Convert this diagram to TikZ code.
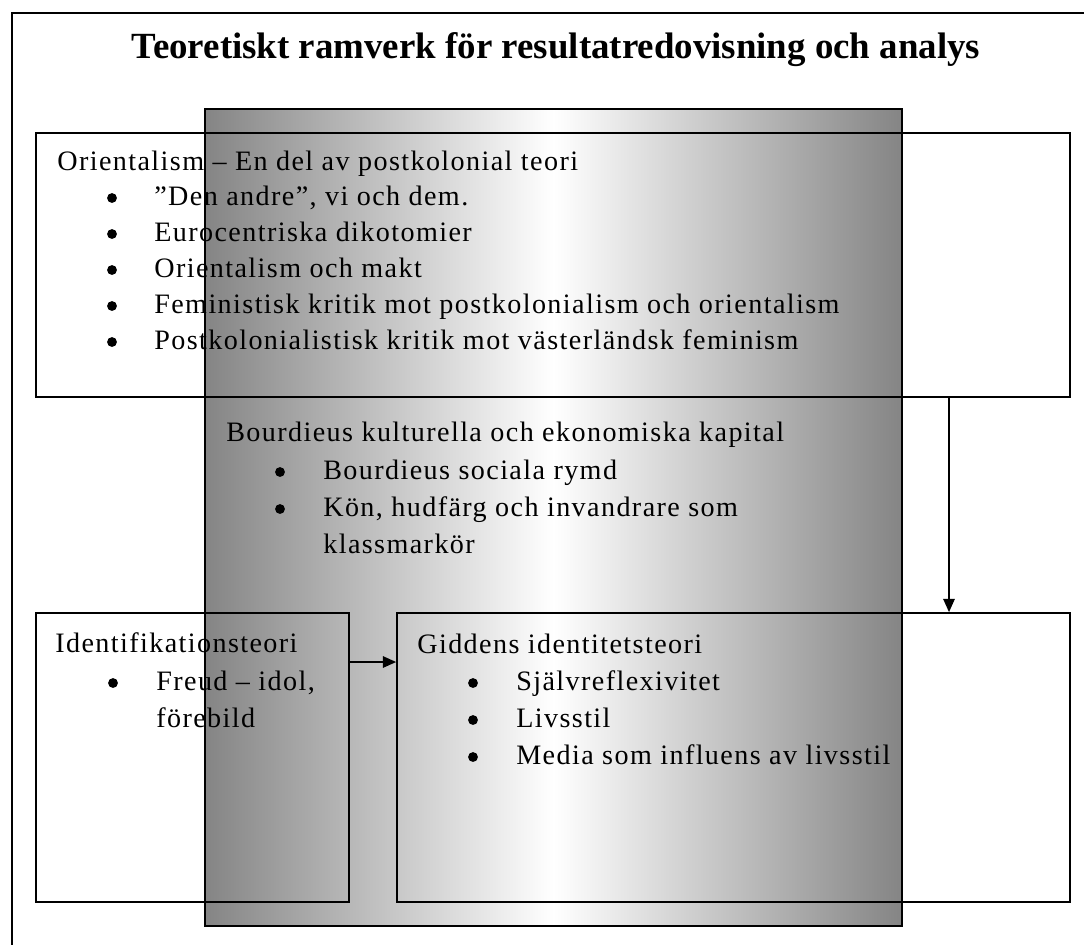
\documentclass[tikz,border=0pt]{standalone}
\usepackage{fontspec}
\setmainfont{Liberation Serif}
\newfontfamily\bodyfont[LetterSpace=5]{Liberation Serif}
\usetikzlibrary{arrows.meta,fit}

\begin{document}
\begin{tikzpicture}[
	x=0.02cm, y=-0.02cm,
	every node/.style={inner sep=0pt},
	box/.style={draw, line width=1pt, inner sep=0pt},
	pillar/.style={draw, line width=1pt, inner sep=0pt, left color=black!48, right color=black!48, middle color=white},
	titletext/.style={font=\fontsize{21}{25}\selectfont\bfseries, anchor=base},
	bodytext/.style={font=\fontsize{16}{19}\bodyfont, anchor=base west},
	dot/.style={circle, fill=black, minimum size=5.6pt},
	arr/.style={line width=0.8pt, -{Triangle[length=7.5pt,width=6.5pt]}},
]
\useasboundingbox (0,0) rectangle (1084,944);

% outer frame, runs off at the right and bottom
\node[box, fit={(12,13) (1100,960)}] (frame) {};
\node[titletext] (title) at (556,58) {Teoretiskt ramverk för resultatredovisning och analys};

% shaded column behind the boxes
\node[pillar, fit={(205,109) (902,926)}] (pillar) {};

% the three boxes
\node[box, fit={(36,133) (1070,397)}] (orient) {};
\node[box, fit={(36,613) (349,902)}] (ident) {};
\node[box, fit={(397,613) (1070,902)}] (giddens) {};

% orientalism
\node[bodytext] (orienthead) at (57,170) {Orientalism – En del av postkolonial teori};
\node[bodytext] (orient1) at (154,205) {”Den andre”, vi och dem.};
\node[bodytext] (orient2) at (154,241) {Eurocentriska dikotomier};
\node[bodytext] (orient3) at (154,277) {Orientalism och makt};
\node[bodytext] (orient4) at (154,313) {Feministisk kritik mot postkolonialism och orientalism};
\node[bodytext] (orient5) at (154,349) {Postkolonialistisk kritik mot västerländsk feminism};
\foreach \y in {205,241,277,313,349}
	\node[dot] (odot\y) at (112,\y-7) {};

% bourdieu
\node[bodytext] (bourdhead) at (226,441) {Bourdieus kulturella och ekonomiska kapital};
\node[bodytext] (bourd1) at (323,479) {Bourdieus sociala rymd};
\node[bodytext] (bourd2) at (323,516) {Kön, hudfärg och invandrare som};
\node[bodytext] (bourd2b) at (323,553) {klassmarkör};
\foreach \y in {479,516}
	\node[dot] (bdot\y) at (280,\y-7) {};

% identifikation
\node[bodytext] (identhead) at (55,652) {Identifikationsteori};
\node[bodytext] (ident1) at (156,690) {Freud – idol,};
\node[bodytext] (ident1b) at (156,727) {förebild};
\node[dot] (idot) at (113,683) {};

% giddens
\node[bodytext] (giddhead) at (417,653) {Giddens identitetsteori};
\node[bodytext] (gidd1) at (516,690) {Självreflexivitet};
\node[bodytext] (gidd2) at (516,727) {Livsstil};
\node[bodytext] (gidd3) at (516,764) {Media som influens av livsstil};
\foreach \y in {690,727,764}
	\node[dot] (gdot\y) at (473,\y-7) {};

% connectors
\coordinate (drop) at (949,0);
\coordinate (link) at (0,662);
\draw[arr] (orient.south -| drop) -- (giddens.north -| drop);
\draw[arr] (ident.east |- link) -- (giddens.west |- link);
\end{tikzpicture}
\end{document}
